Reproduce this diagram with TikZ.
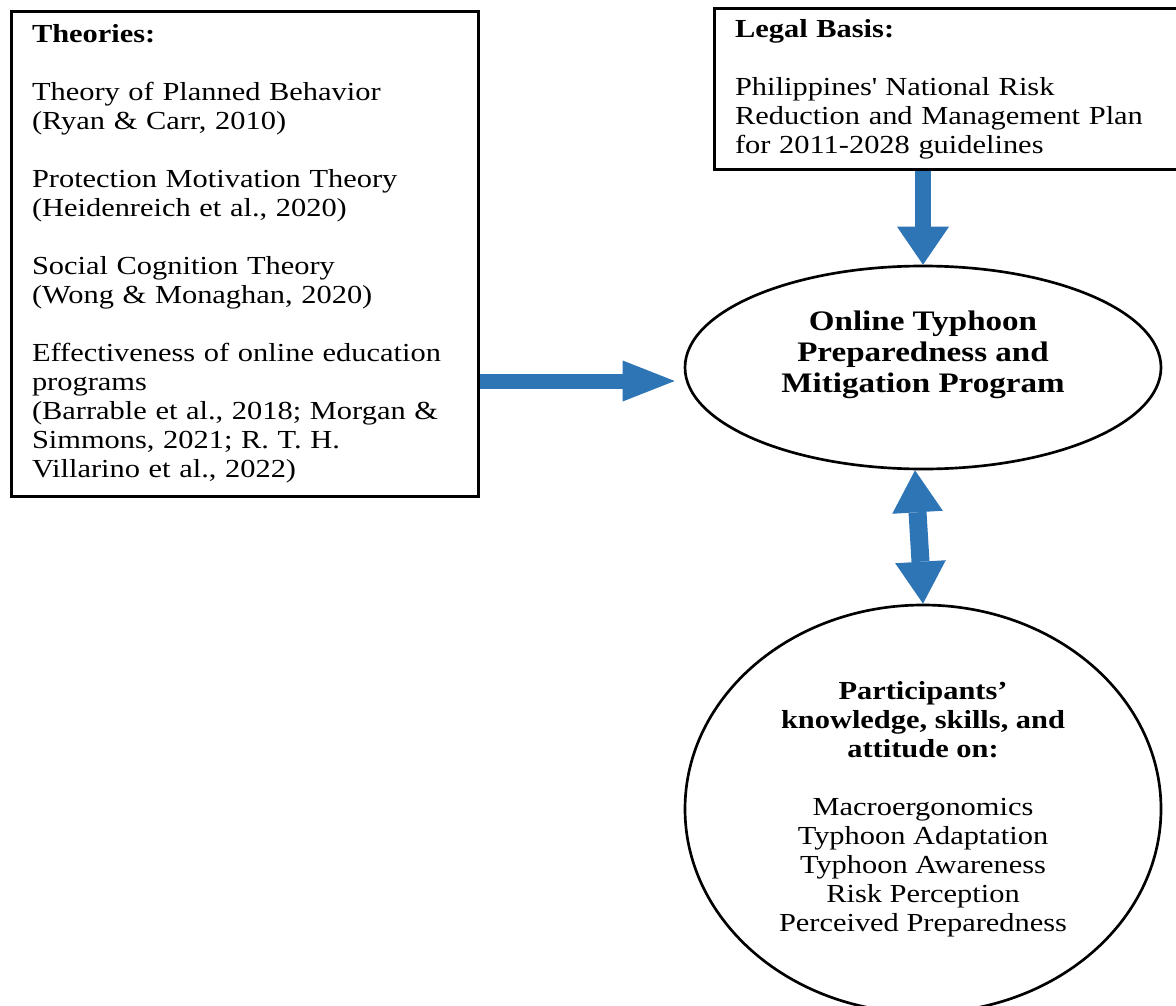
\documentclass[tikz,border=0pt]{standalone}
\usepackage{fontspec}
\setmainfont{Liberation Serif}[FakeStretch=1.17]
\usetikzlibrary{shapes.geometric,arrows.meta,positioning}
\definecolor{flowblue}{RGB}{46,117,182}
\newcommand{\diagfont}{\fontsize{19.5}{21.75}\selectfont}
\newcommand{\progfont}{\fontsize{21.2}{23.25}\selectfont}

\begin{document}
\begin{tikzpicture}[x=0.75pt,y=-0.75pt,
    box/.style={draw, line width=2.25pt, rectangle, align=left, inner xsep=15.4pt, font=\diagfont},
    oval/.style={draw, line width=2pt, ellipse, inner sep=0pt},
    flow/.style={draw=flowblue, line width=11.25pt, -{Triangle[length=39pt,width=30.75pt,line width=0pt]}}]
    \useasboundingbox (0,0) rectangle (1176,1005);
    % theory box
    \node[box, minimum width=350.25pt, minimum height=363.75pt, text width=319.5pt] (theories) at (245,254) {\textbf{Theories:}\\[21.75pt]
        Theory of Planned Behavior\\
        (Ryan \& Carr, 2010)\\[21.75pt]
        Protection Motivation Theory\\
        (Heidenreich et al., 2020)\\[21.75pt]
        Social Cognition Theory\\
        (Wong \& Monaghan, 2020)\\[21.75pt]
        Effectiveness of online education\\
        programs\\
        (Barrable et al., 2018; Morgan \&\\
        Simmons, 2021; R. T. H.\\
        Villarino et al., 2022)};
    % legal box, runs off the right edge
    \node[box, minimum width=349.1pt, minimum height=120.75pt, text width=318.3pt] (legal) at (947.25,89) {\textbf{Legal Basis:}\\[21.75pt]
        Philippines\textquotesingle\ National Risk\\
        Reduction and Management Plan\\
        for 2011-2028 guidelines};
    % program
    \node[oval, minimum width=357pt, minimum height=152.25pt] (prog) at (923,367.5) {};
    \node[font=\progfont\bfseries, align=center] (progtitle) at ([yshift=9.4pt]prog.center) {Online Typhoon\\Preparedness and\\Mitigation Program};
    % outcomes
    \node[oval, minimum width=357pt, minimum height=306pt, align=center, font=\diagfont] (part) at (923,809) {\textbf{Participants’}\\
        \textbf{knowledge, skills, and}\\
        \textbf{attitude on:}\\[21.75pt]
        Macroergonomics\\
        Typhoon Adaptation\\
        Typhoon Awareness\\
        Risk Perception\\
        Perceived Preparedness};
    % arrows
    \coordinate (tOut) at ([yshift=-95.25pt]theories.east);
    \draw[flow, shorten >=6.75pt] (tOut) -- (tOut -| prog.west);
    \draw[flow, line width=12pt, -{Triangle[length=28.5pt,width=39pt,line width=0pt]}] (prog.north |- legal.south) -- (prog.north);
    \draw[flow, line width=13.5pt, {Triangle[length=31.5pt,width=38pt,line width=0pt]}-{Triangle[length=31.5pt,width=38pt,line width=0pt]}] ([xshift=-6pt]prog.south) -- (part.north);
\end{tikzpicture}
\end{document}
